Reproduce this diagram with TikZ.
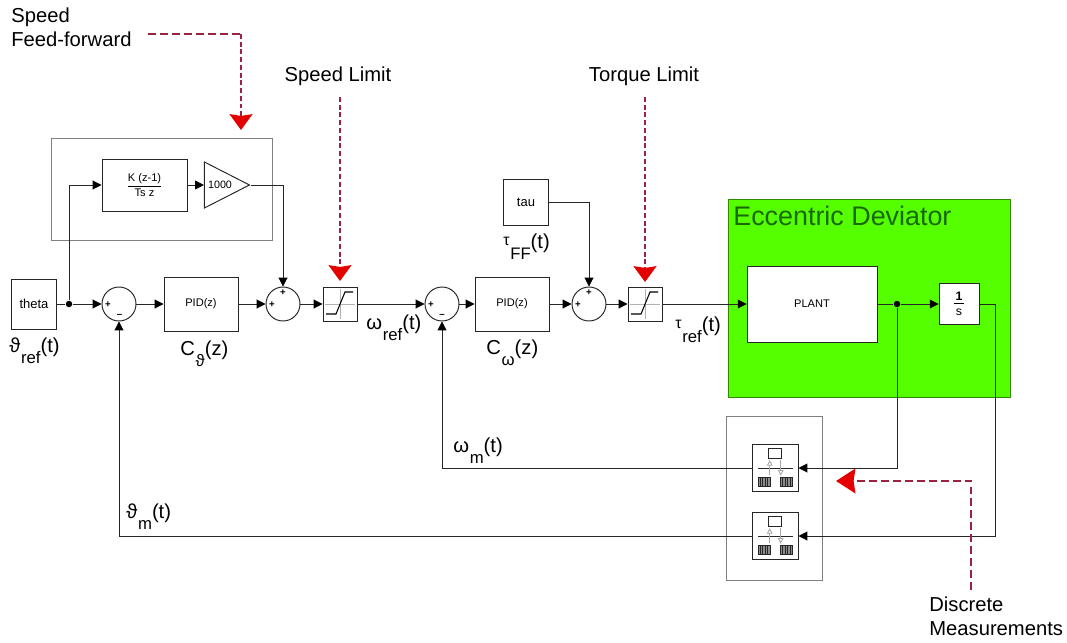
\documentclass[tikz,border=0pt]{standalone}
\usepackage{fontspec}
\setmainfont{Liberation Sans}
\usetikzlibrary{arrows.meta,calc,shapes.geometric}
\definecolor{ecgreen}{RGB}{85,255,0}
\definecolor{ectext}{RGB}{25,105,10}
\definecolor{notered}{RGB}{155,35,65}
\newcommand{\sigtext}[2]{#1\hspace{.4pt}\raisebox{-6.8pt}{\fontsize{9.5}{10}\selectfont #2}(t)}
\newcommand{\smalltau}{\raisebox{1.5pt}{\fontsize{9}{10}\selectfont τ}}
\tikzset{
  sig/.style={line width=.55pt,black!85,-{Triangle[length=5pt,width=5pt,color=black]}},
  wire/.style={line width=.55pt,black!85},
  notedash/.style={line width=1.3pt,notered,dash pattern=on 2.8pt off 1.6pt},
  longdash/.style={line width=1.3pt,notered,dash pattern=on 4.5pt off 2.3pt},
  smallhead/.style={-{Stealth[length=9pt,width=13pt,inset=1pt,color=red!90!black]}},
  bighead/.style={-{Stealth[length=11pt,width=14pt,inset=1pt,color=red!90!black]}},
  block/.style={draw=black!85,fill=white,line width=.55pt,inner sep=0pt,font=\fontsize{6.3}{7}\selectfont},
  sum/.style={circle,draw=black!85,fill=white,line width=.55pt,minimum size=.68cm,inner sep=0pt},
  sat/.style={block,minimum size=.68cm},
  zoh/.style={block,minimum width=.92cm,minimum height=.95cm},
  frame/.style={draw=black!50,line width=.55pt},
  sgn/.style={inner sep=0pt,font=\bfseries\fontsize{5.5}{6}\selectfont},
  dot/.style={circle,fill=black,inner sep=0pt,minimum size=.13cm},
  lab/.style={inner sep=0pt,font=\fontsize{11.5}{13.4}\selectfont,align=left},
  siglab/.style={lab,anchor=base west},
}
\begin{document}
\begin{tikzpicture}[x=.02cm,y=-.02cm]
\useasboundingbox (0,0) rectangle (1067,642);

\fill[ecgreen,draw=black!45!ecgreen] (728,199) rectangle (1010,397);
\draw[frame] (51,138) rectangle (272,240);
\draw[frame] (726.5,416) rectangle (822.5,580);
\node[inner sep=0pt,anchor=west,text=ectext,font=\fontsize{15.3}{17}\selectfont] (devlab) at (733,216) {Eccentric Deviator};

\node[block,minimum width=.91cm,minimum height=1cm,font=\fontsize{7.4}{8}\selectfont] (theta) at (34,304) {theta};
\node[sum] (suma) at (119,304) {};
\node[block,minimum width=1.48cm,minimum height=1.08cm] (pida) at (201,304) {PID(z)};
\node[sum] (sumb) at (283,304) {};
\node[sat] (sata) at (340,304) {};
\node[sum] (sumc) at (442,304) {};
\node[block,minimum width=1.48cm,minimum height=1.08cm] (pidb) at (512,304) {PID(z)};
\node[sum] (sumd) at (589,304) {};
\node[sat] (satb) at (645,304) {};
\node[block,minimum width=.91cm,minimum height=.92cm,font=\fontsize{7.4}{8}\selectfont] (tau) at (526,202) {tau};
\node[block,minimum width=2.6cm,minimum height=1.52cm] (plant) at (812,304) {PLANT};
\node[block,minimum width=.8cm,minimum height=.82cm,font=\bfseries\fontsize{7}{7.5}\selectfont,align=center] (integ) at (959,304) {\underline{\,1\,}\\[1pt]{\mdseries s}};
\node[block,minimum width=1.7cm,minimum height=1.04cm,align=center] (deriv) at (144.5,185) {\underline{K (z-1)}\\Ts z};
\node[block,isosceles triangle,isosceles triangle stretches,shape border rotate=0,minimum width=.92cm,minimum height=.9cm] (gain) at (218.5,185) {};
\node[inner sep=0pt,font=\fontsize{6.1}{7}\selectfont] (gainval) at (220,185) {1000};
\node[zoh] (zoha) at (775,468) {};
\node[zoh] (zohb) at (775,536) {};

\node[dot] (jcta) at (69,304) {};
\node[dot] (jctb) at (897,304) {};
\coordinate (bend) at (995,304);

\foreach \s/\x/\y in {pa/108/305,pb/272/305,pc/283/293,pd/431/305,pe/578/305,pf/589/293}
  \node[sgn] (\s) at (\x,\y) {+};
\foreach \s/\x/\y in {ma/119.5/316,mb/442/316}
  \node[sgn] (\s) at (\x,\y) {–};

\foreach \b in {sata,satb}{
  \begin{scope}[shift={(\b.center)}]
    \draw[black!30,line width=.5pt] (-15,0)--(15,0) (0,-15)--(0,15);
    \draw[black,line width=.6pt] (-14,10)--(-4,10)--(5,-12)--(13,-12);
  \end{scope}
}
\foreach \b in {zoha,zohb}{
  \begin{scope}[shift={(\b.center)}]
    \draw[black!85,line width=.55pt] (-17,0)--(18,0);
    \draw[black!85,line width=.55pt] (-6.7,-19.3) rectangle (6.3,-9.7);
    \draw[black!35,line width=.5pt,-{Triangle[open,length=3.2pt,width=3.2pt]}] (-5.3,7)--(-5.3,-8);
    \draw[black!35,line width=.5pt,-{Triangle[open,length=3.2pt,width=3.2pt]}] (5.7,-8)--(5.7,7.7);
    \draw[black!85,fill=black!45,line width=.5pt] (-17,9) rectangle (-5,18.7);
    \draw[black!85,fill=black!45,line width=.5pt] (5.3,9) rectangle (17.7,18.7);
    \foreach \h in {-15,-12.5,-10,-7.5,7.5,10,12.5,15}
      \draw[black!85,line width=.5pt] (\h,9)--(\h,18.7);
  \end{scope}
}

\draw[wire] (theta)--(jcta);
\draw[sig] (jcta)--(suma);
\draw[sig] (jcta) |- (deriv);
\draw[sig] (suma)--(pida);
\draw[sig] (pida)--(sumb);
\draw[sig] (deriv)--(gain);
\draw[sig] (gain.apex) -| (sumb);
\draw[sig] (sumb)--(sata);
\draw[sig] (sata)--(sumc);
\draw[sig] (sumc)--(pidb);
\draw[sig] (pidb)--(sumd);
\draw[sig] (tau) -| (sumd);
\draw[sig] (sumd)--(satb);
\draw[sig] (satb)--(plant);
\draw[wire] (plant)--(jctb);
\draw[sig] (jctb)--(integ);
\draw[wire] (integ)--(bend);
\draw[sig] (bend) |- (zohb);
\draw[sig] (jctb) |- (zoha);
\draw[sig] (zoha) -| (sumc);
\draw[sig] (zohb) -| (suma);

\node[siglab] (thetaref) at (9,352) {\sigtext{ϑ}{ref}};
\node[siglab] (cth) at (180,355) {C\hspace{.4pt}\raisebox{-6.8pt}{\fontsize{9.5}{10}\selectfont ϑ}(z)};
\node[siglab] (tauff) at (503,248) {\sigtext{\smalltau}{FF}};
\node[siglab] (com) at (486,354) {C\hspace{.4pt}\raisebox{-6.8pt}{\fontsize{9.5}{10}\selectfont ω}(z)};
\node[siglab] (omref) at (366,329) {\sigtext{ω}{ref}};
\node[siglab] (tauref) at (675,331) {\sigtext{\smalltau}{ref}};
\node[siglab] (omm) at (453,452) {\sigtext{ω}{m}};
\node[siglab] (thm) at (126,518) {\sigtext{ϑ}{m}};

\node[lab,anchor=west] (fflab) at (11,27.5) {Speed\\Feed-forward};
\node[lab] (speedlab) at (338,76) {Speed Limit};
\node[lab] (torquelab) at (644,76) {Torque Limit};
\node[lab,anchor=west] (dmlab) at (929,616.5) {Discrete\\Measurements};

\coordinate (ffa) at (148,34);
\coordinate (ffb) at (241,34);
\coordinate (ffc) at (241,130);
\coordinate (sla) at (340,97);
\coordinate (slb) at (340,281);
\coordinate (tla) at (645,97);
\coordinate (tlb) at (645,282);
\coordinate (dma) at (971,590);
\coordinate (dmb) at (971,481);
\coordinate (dmc) at (836,481);
\draw[longdash] (ffa)--(ffb);
\draw[notedash,smallhead] (ffb)--(ffc);
\draw[notedash,smallhead] (sla)--(slb);
\draw[notedash,smallhead] (tla)--(tlb);
\draw[longdash,bighead] (dma)--(dmb)--(dmc);
\end{tikzpicture}
\end{document}
